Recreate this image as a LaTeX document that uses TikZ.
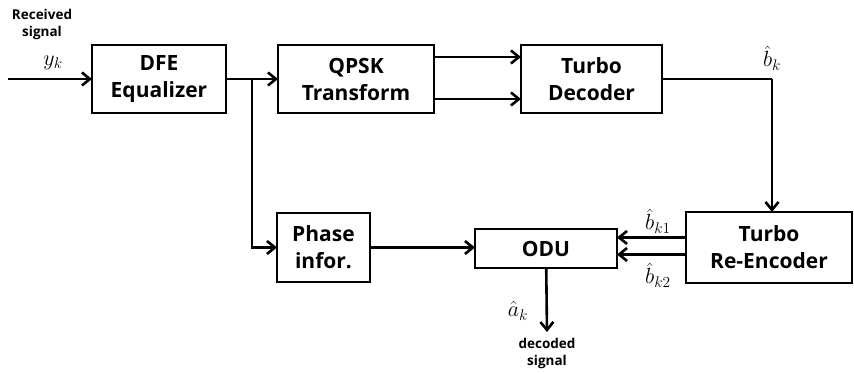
\RequirePackage{fix-cm}
\documentclass[tikz,border=0pt]{standalone}
\usepackage[no-math]{fontspec}
\setmainfont{Open Sans}
\usetikzlibrary{arrows.meta, positioning}
\tikzset{
    block/.style={draw, line width=2.2pt, align=center, inner sep=0pt, outer sep=0pt,
                  font=\bfseries\fontsize{21}{27}\selectfont, minimum height=68pt},
    flow/.style={-{Straight Barb[length=8pt,width=13pt]}, line width=2.6pt},
    link/.style={-, line width=2.6pt},
    lbl/.style={font=\fontsize{22}{26}\selectfont},
    note/.style={align=center, font=\bfseries\fontsize{13.5}{17}\selectfont},
}

\begin{document}
\begin{tikzpicture}[x=1pt, y=-1pt]
    \useasboundingbox (0,0) rectangle (854,374);
    % upper chain
    \node[block, minimum width=134pt] (dfe) at (159,79) {DFE\\Equalizer};
    \node[block, minimum width=156pt, right=52pt of dfe] (qpsk) {QPSK\\Transform};
    \node[block, minimum width=141pt, right=87pt of qpsk] (tdec) {Turbo\\Decoder};
    % lower chain
    \node[block, minimum width=93pt, minimum height=69pt] (phase) at (323.5,247.5) {Phase\\infor.};
    \node[block, minimum width=142pt, minimum height=39pt] (odu) at (546,248.5) {ODU};
    \node[block, minimum width=166pt, minimum height=71pt] (renc) at (769,247.5) {Turbo\\Re-Encoder};
    % free ends and bends
    \coordinate (in) at (8,79);
    \coordinate (split) at (252,79);
    \coordinate (turn) at (772,79);
    \coordinate (out) at (547,332);
    \draw[flow] (in) -- (dfe);
    \draw[flow] (dfe) -- (qpsk);
    \draw[flow] (split) |- (phase);
    \draw[flow] ([yshift=22pt]qpsk.east) -- ([yshift=22pt]tdec.west);
    \draw[flow] ([yshift=-20pt]qpsk.east) -- ([yshift=-20pt]tdec.west);
    \draw[link] (tdec) -- (turn);
    \draw[flow] (turn) -- (turn |- renc.north);
    \draw[flow] ([yshift=10pt]renc.west) -- ([yshift=10pt]renc.west -| odu.east);
    \draw[flow] ([yshift=-7pt]renc.west) -- ([yshift=-7pt]renc.west -| odu.east);
    \draw[flow] (phase) -- (phase -| odu.west);
    \draw[flow] (odu) -- (out);
    % labels
    \node[note] (rx) at (42,24) {Received\\signal};
    \node[lbl] (yk) at (53,63) {$y_k$};
    \node[lbl] (bk) at (772,58) {$\hat{b}_k$};
    \node[lbl] (bk1) at (658,221) {$\hat{b}_{k1}$};
    \node[lbl] (bk2) at (658,275) {$\hat{b}_{k2}$};
    \node[lbl] (ak) at (518,311) {$\hat{a}_k$};
    \node[note] (dec) at (547,353) {decoded\\signal};
\end{tikzpicture}
\end{document}
